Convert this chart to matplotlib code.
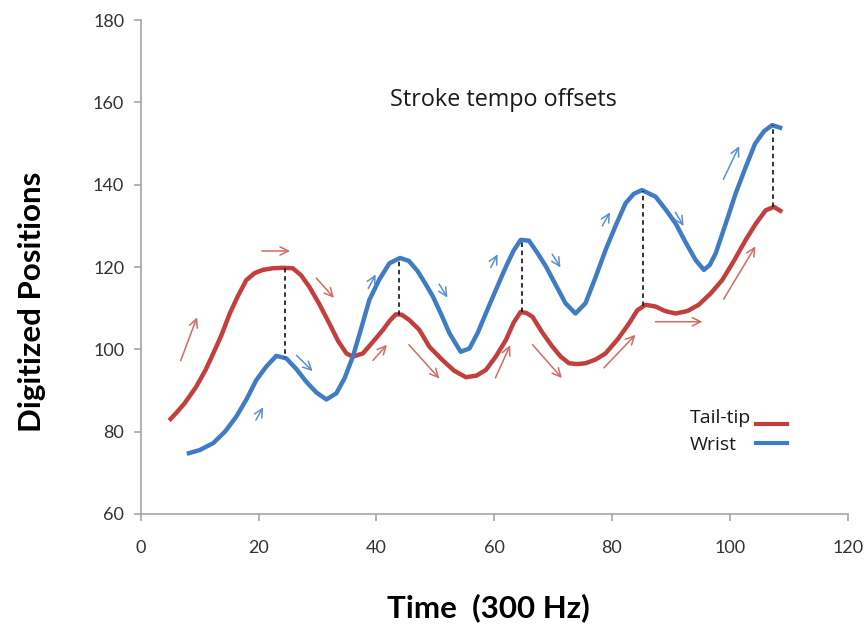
import numpy as np
import matplotlib.pyplot as plt
from matplotlib.lines import Line2D

# Tail-tip (red) trace
tail_x = [4.8, 6, 7.5, 9.4, 11, 12.3, 13.7, 15.1, 16.5, 17.9, 19.3, 20.7, 22.4, 24.1, 25.8,
          27.2, 28.6, 30.3, 32.0, 33.5, 34.9, 36.0, 37.7, 39.4, 41.1, 42.3, 43.3, 44.3, 45.6,
          47.3, 49, 51.2, 53.2, 55.2, 57, 58.6, 60.3, 62.0, 63.3, 64.5, 65.5, 66.5, 68.2, 69.9,
          71.3, 72.7, 74.1, 75.5, 77.2, 78.9, 81, 82.9, 84.3, 85.7, 87.4, 89, 90.8, 92.8, 94.7,
          96.7, 98.7, 100.7, 102.7, 104.4, 106.1, 107.5, 108.9]
tail_y = [82.7, 84.5, 87, 90.9, 95, 99, 103.5, 108.7, 113, 116.8, 118.5, 119.3, 119.7, 119.8, 119.7,
          118, 115.2, 111, 106.3, 102, 99.0, 98.2, 99, 101.8, 104.7, 107, 108.5, 108.4, 107.1,
          104.7, 100.6, 97.4, 94.8, 93.2, 93.6, 95, 98.3, 102.3, 106.5, 109.1, 108.8, 107.9, 104, 100.6,
          98.2, 96.6, 96.4, 96.6, 97.5, 99.0, 102.5, 106.3, 109.5, 110.8, 110.4, 109.3, 108.7, 109.3, 110.8,
          113.5, 116.8, 121.5, 126.6, 130.5, 133.8, 134.6, 133.4]

# Wrist (blue) trace
wrist_x = [7.8, 10, 12.3, 14.3, 16.2, 18, 19.6, 21.3, 23.0, 24.7, 26.4, 28.1, 29.8, 31.5, 33.2,
           34.6, 36.0, 37.4, 38.8, 40.5, 42.2, 44.0, 45.5, 47, 48.3, 49.6, 51, 52.4, 54.3, 55.8,
           57.2, 58.6, 60.3, 62.0, 63.3, 64.5, 65.9, 67.3, 68.8, 70.5, 72.1, 73.8, 75.5, 77.2, 78.9,
           80.6, 82.3, 83.7, 85.1, 87.4, 89.1, 90.8, 92.5, 94.2, 95.6, 96.6, 97.6, 99.3, 101.0,
           102.7, 104.3, 105.8, 107.2, 108.9]
wrist_y = [74.6, 75.5, 77.2, 80, 83.6, 88, 92.5, 95.8, 98.4, 97.8, 95.2, 92.1, 89.5, 87.8, 89.3,
           93, 98.2, 105, 112, 117, 120.9, 122.2, 121.5, 119, 116, 112.8, 108.5, 103.9, 99.4, 100.2,
           104, 108.8, 114.5, 120.1, 124, 126.6, 126.4, 123.5, 120.1, 115.5, 111.2, 108.7, 111.2, 117.5, 124.1,
           130, 135.5, 137.8, 138.7, 137.1, 134, 130.6, 126, 121.7, 119.3, 120.5, 123.3, 130.5, 137.9,
           144.3, 150.0, 153, 154.5, 153.7]

# peak offsets (dashed connectors)
offset_x = [24.5, 43.8, 64.7, 85.3, 107.3]

# direction arrows: (x0, y0, x1, y1)
tail_arrows = [(6.6, 96.6, 9.7, 108.4), (20.1, 123.9, 25.8, 123.9), (29.5, 117.8, 33.1, 112),
               (39.1, 96.8, 42.1, 101.6), (45.2, 101.6, 51, 92.4), (60, 92.4, 62.9, 101.6),
               (66.2, 101.6, 71.8, 92.5), (78.3, 95, 84.3, 104), (86.9, 106.7, 95.8, 106.7),
               (98.7, 111.6, 104.6, 125.6)]
wrist_arrows = [(19.3, 82.2, 21, 86.5), (26.1, 99, 29.5, 94.2), (38.4, 114.2, 40.1, 118.8),
                (50.4, 116.4, 52.3, 112), (59.2, 119.3, 60.8, 123.7), (69.6, 123.7, 71.5, 119.3),
                (78.1, 129.4, 79.9, 133.9), (90.5, 133.9, 92.4, 129.4), (98.7, 140.7, 101.8, 150)]

red = '#c33f3d'
blue = '#3f7cc4'
plt.rcParams['font.family'] = ['Open Sans', 'DejaVu Sans']

fig = plt.figure(figsize=(8.64, 6.32), dpi=100)
ax = fig.add_axes([0.163, 0.187, 0.818, 0.781])

ax.plot(tail_x, tail_y, color=red, lw=3.2, solid_capstyle='butt', solid_joinstyle='round')
ax.plot(wrist_x, wrist_y, color=blue, lw=3.2, solid_capstyle='butt', solid_joinstyle='round')

for xo in offset_x:
    ya = np.interp(xo, tail_x, tail_y)
    yb = np.interp(xo, wrist_x, wrist_y)
    ax.plot([xo, xo], [ya, yb], color='#222222', lw=1.3, ls=(0, (2.5, 2)))

for x0, y0, x1, y1 in tail_arrows:
    ax.annotate('', xy=(x1, y1), xytext=(x0, y0),
                arrowprops=dict(arrowstyle='->,head_length=0.6,head_width=0.3', color='#d46a68', lw=1.1))
for x0, y0, x1, y1 in wrist_arrows:
    ax.annotate('', xy=(x1, y1), xytext=(x0, y0),
                arrowprops=dict(arrowstyle='->,head_length=0.6,head_width=0.3', color='#5b8fd0', lw=1.1))

ax.text(61.6, 160.5, 'Stroke tempo offsets', ha='center', va='center', fontsize=16.8, color='#1a1a1a')

# legend: label first, line after
ax.text(0.777, 0.194, 'Tail-tip', transform=ax.transAxes, ha='left', va='center', fontsize=14, color='#1a1a1a')
ax.text(0.777, 0.140, 'Wrist', transform=ax.transAxes, ha='left', va='center', fontsize=14, color='#1a1a1a')
ax.add_line(Line2D([0.870, 0.914], [0.182, 0.182], transform=ax.transAxes, color=red, lw=3))
ax.add_line(Line2D([0.870, 0.914], [0.144, 0.144], transform=ax.transAxes, color=blue, lw=3))

ax.set_xlim(0, 120)
ax.set_ylim(60, 180)
ax.set_xticks(range(0, 121, 20))
ax.set_yticks(range(60, 181, 20))
for s in ['top', 'right']:
    ax.spines[s].set_visible(False)
for s in ['left', 'bottom']:
    ax.spines[s].set_color('#a6a6a6')
    ax.spines[s].set_linewidth(1.2)
ax.tick_params(colors='#a6a6a6', labelcolor='#333333', labelsize=13, length=5, width=1.2)
ax.tick_params(axis='x', pad=14)
ax.tick_params(axis='y', pad=7)
for lab in ax.get_xticklabels() + ax.get_yticklabels():
    lab.set_family(['Lato', 'DejaVu Sans'])

ax.set_ylabel('Digitized Positions', fontsize=22.5, fontweight='bold', family=['Lato', 'DejaVu Sans'])
ax.set_xlabel('Time  (300 Hz)', fontsize=22.5, fontweight='bold', family=['Lato', 'DejaVu Sans'])
ax.yaxis.set_label_coords(-0.134, 0.43)
ax.xaxis.set_label_coords(0.492, -0.16)

fig.savefig('out.png', dpi=100)
